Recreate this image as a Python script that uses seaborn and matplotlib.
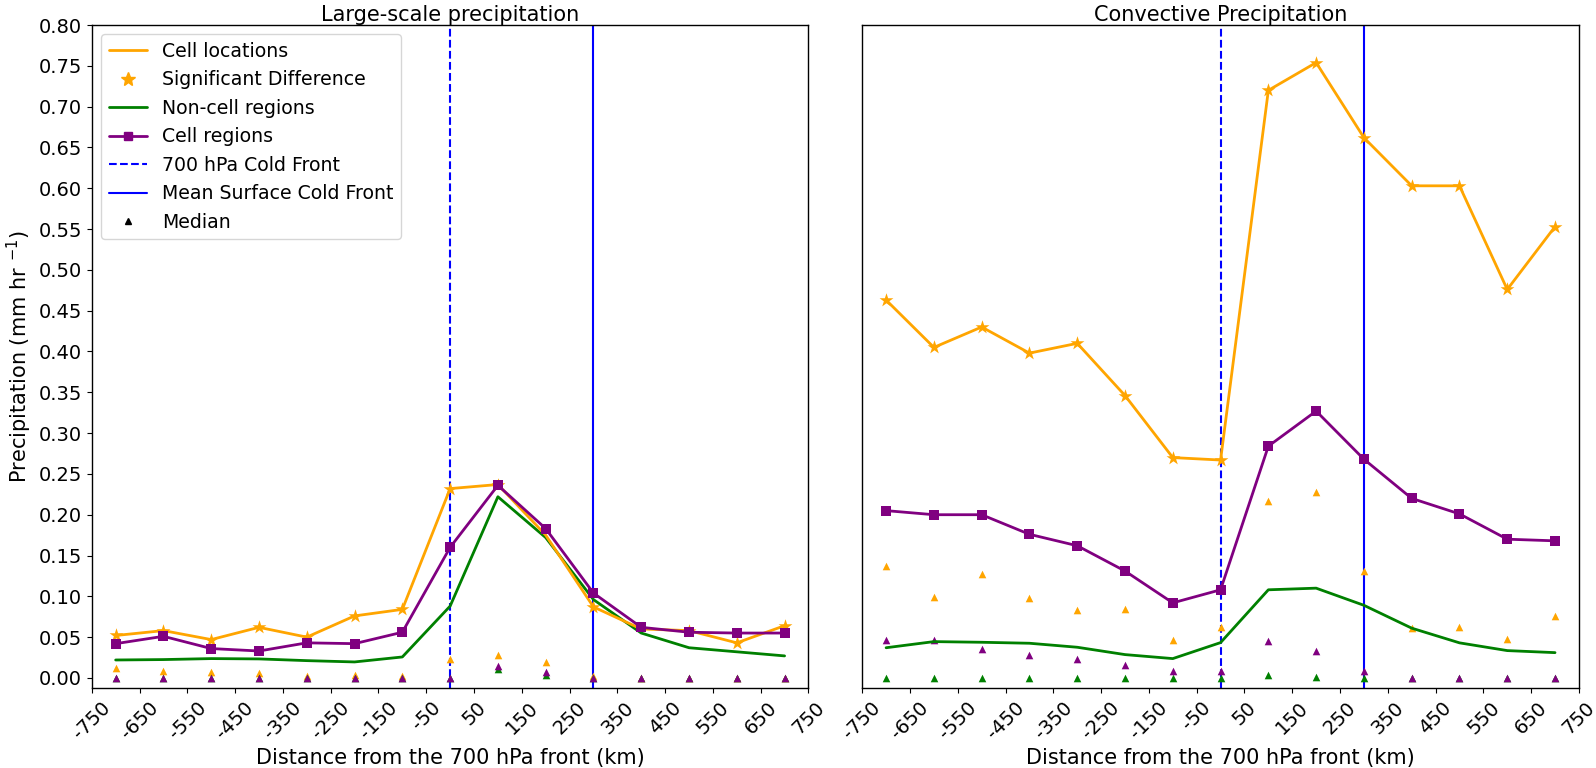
import numpy as np
import pandas as pd
import matplotlib
matplotlib.use("Agg")
import matplotlib.pyplot as plt
from matplotlib.lines import Line2D
import seaborn as sns

# ---------------- data ----------------
distance = [-700, -600, -500, -400, -300, -200, -100, 0, 100, 200, 300, 400, 500, 600, 700]

# Large-scale precipitation
ls_cell_loc = [0.052, 0.058, 0.047, 0.062, 0.050, 0.076, 0.084, 0.232, 0.237, 0.175, 0.087, 0.060, 0.058, 0.043, 0.064]
ls_sig = [True, True, True, True, True, True, True, True, True, False, True, False, True, True, True]
ls_noncell = [0.022, 0.0225, 0.0237, 0.0233, 0.0212, 0.0196, 0.0257, 0.088, 0.222, 0.172, 0.096, 0.055, 0.037, 0.032, 0.027]
ls_cellreg = [0.042, 0.051, 0.036, 0.033, 0.043, 0.042, 0.056, 0.160, 0.236, 0.183, 0.104, 0.062, 0.056, 0.055, 0.055]
ls_med_cell_loc = [0.012, 0.008, 0.007, 0.006, 0.002, 0.004, 0.002, 0.023, 0.028, 0.020, 0.002, 0.0, 0.0, 0.0, 0.0]
ls_med_noncell = [0.0, 0.0, 0.0, 0.0, 0.0, 0.0, 0.0, 0.0, 0.011, 0.004, 0.0, 0.0, 0.0, 0.0, 0.0]
ls_med_cellreg = [0.0, 0.0, 0.0, 0.0, 0.0, 0.0, 0.0, 0.0, 0.015, 0.007, 0.0, 0.0, 0.0, 0.0, 0.0]

# Convective precipitation
cv_cell_loc = [0.463, 0.405, 0.430, 0.398, 0.410, 0.346, 0.270, 0.267, 0.720, 0.754, 0.662, 0.603, 0.603, 0.476, 0.553]
cv_sig = [True] * 15
cv_noncell = [0.037, 0.0445, 0.0437, 0.0425, 0.0376, 0.0286, 0.0237, 0.0433, 0.108, 0.110, 0.089, 0.061, 0.043, 0.0335, 0.031]
cv_cellreg = [0.205, 0.200, 0.200, 0.176, 0.162, 0.131, 0.092, 0.108, 0.284, 0.327, 0.268, 0.220, 0.201, 0.170, 0.168]
cv_med_cell_loc = [0.137, 0.099, 0.127, 0.098, 0.083, 0.084, 0.046, 0.063, 0.217, 0.228, 0.131, 0.061, 0.0625, 0.048, 0.0756]
cv_med_noncell = [0.0, 0.0, 0.0, 0.0, 0.0, 0.0, 0.0, 0.0, 0.003, 0.0016, 0.0, 0.0, 0.0, 0.0, 0.0]
cv_med_cellreg = [0.046, 0.046, 0.035, 0.028, 0.023, 0.0156, 0.008, 0.008, 0.045, 0.0335, 0.008, 0.0, 0.0, 0.0, 0.0]

front_700 = 0
front_surface = 300

xticks = list(range(-750, 751, 100))
yticks = [round(0.05 * i, 2) for i in range(17)]

titles = ["Large-scale precipitation", "Convective Precipitation"]
xlabel = "Distance from the 700 hPa front (km)"
ylabel = "Precipitation (mm hr $^{-1}$)"

# ---------------- style ----------------
sns.set_style("ticks")
plt.rcParams.update({
    "font.family": ["DejaVu Sans"],
    "font.size": 14,
    "axes.edgecolor": "black",
    "axes.labelcolor": "black",
    "xtick.color": "black",
    "ytick.color": "black",
    "text.color": "black",
    "axes.linewidth": 1.0,
})

ORANGE, GREEN, PURPLE, BLUE = "orange", "green", "purple", "blue"

fig, axes = plt.subplots(1, 2, figsize=(15.96, 7.68), dpi=100, sharey=True)
fig.subplots_adjust(left=0.0575, right=0.9893, top=0.9674, bottom=0.1042, wspace=0.075)

panels = [
    (ls_cell_loc, ls_sig, ls_noncell, ls_cellreg, ls_med_cell_loc, ls_med_noncell, ls_med_cellreg),
    (cv_cell_loc, cv_sig, cv_noncell, cv_cellreg, cv_med_cell_loc, cv_med_noncell, cv_med_cellreg),
]

for ax, title, (cl, sig, nc, cr, mcl, mnc, mcr) in zip(axes, titles, panels):
    df = pd.DataFrame({"d": distance, "cl": cl, "sig": sig, "nc": nc, "cr": cr,
                       "mcl": mcl, "mnc": mnc, "mcr": mcr})
    ax.axvline(front_700, color=BLUE, ls="--", lw=1.5, zorder=1)
    ax.axvline(front_surface, color=BLUE, ls="-", lw=1.5, zorder=1)

    # medians
    sns.scatterplot(data=df, x="d", y="mcl", marker="^", s=30, color=ORANGE, linewidth=0, ax=ax, zorder=2)
    sns.scatterplot(data=df, x="d", y="mnc", marker="^", s=30, color=GREEN, linewidth=0, ax=ax, zorder=2)
    sns.scatterplot(data=df, x="d", y="mcr", marker="^", s=30, color=PURPLE, linewidth=0, ax=ax, zorder=2)

    # significance stars
    dsig = df[df["sig"]]
    sns.scatterplot(data=dsig, x="d", y="cl", marker="*", s=110, color=ORANGE, linewidth=0, ax=ax, zorder=3)

    sns.lineplot(data=df, x="d", y="nc", color=GREEN, lw=2, ax=ax, zorder=3)
    sns.lineplot(data=df, x="d", y="cr", color=PURPLE, lw=2, marker="s", markersize=6.5,
                 markeredgewidth=0, ax=ax, zorder=4)
    sns.lineplot(data=df, x="d", y="cl", color=ORANGE, lw=2, ax=ax, zorder=3.5)

    ax.set_title(title, fontsize=15, pad=3)
    ax.set_xlim(-750, 750)
    ax.set_xticks(xticks)
    ax.set_xticklabels([str(t) for t in xticks], rotation=45, fontsize=14)
    ax.set_xlabel(xlabel, fontsize=15)
    ax.set_ylabel("")

axes[0].set_ylim(-0.0123, 0.8)
axes[0].set_yticks(yticks)
axes[0].set_yticklabels([f"{t:.2f}" for t in yticks], fontsize=14)
axes[0].set_ylabel(ylabel, fontsize=15, labelpad=3)
axes[1].tick_params(axis="y", left=False, labelleft=False)

handles = [
    Line2D([], [], color=ORANGE, lw=2),
    Line2D([], [], color=ORANGE, ls="", marker="*", markersize=10),
    Line2D([], [], color=GREEN, lw=2),
    Line2D([], [], color=PURPLE, lw=2, marker="s", markersize=6),
    Line2D([], [], color=BLUE, ls="--", lw=1.5),
    Line2D([], [], color=BLUE, ls="-", lw=1.5),
    Line2D([], [], color="black", ls="", marker="^", markersize=5),
]
labels = ["Cell locations", "Significant Difference", "Non-cell regions", "Cell regions",
          "700 hPa Cold Front", "Mean Surface Cold Front", "Median"]
axes[0].legend(handles, labels, loc="upper left", fontsize=13.6)

fig.savefig("out.png", dpi=100)
